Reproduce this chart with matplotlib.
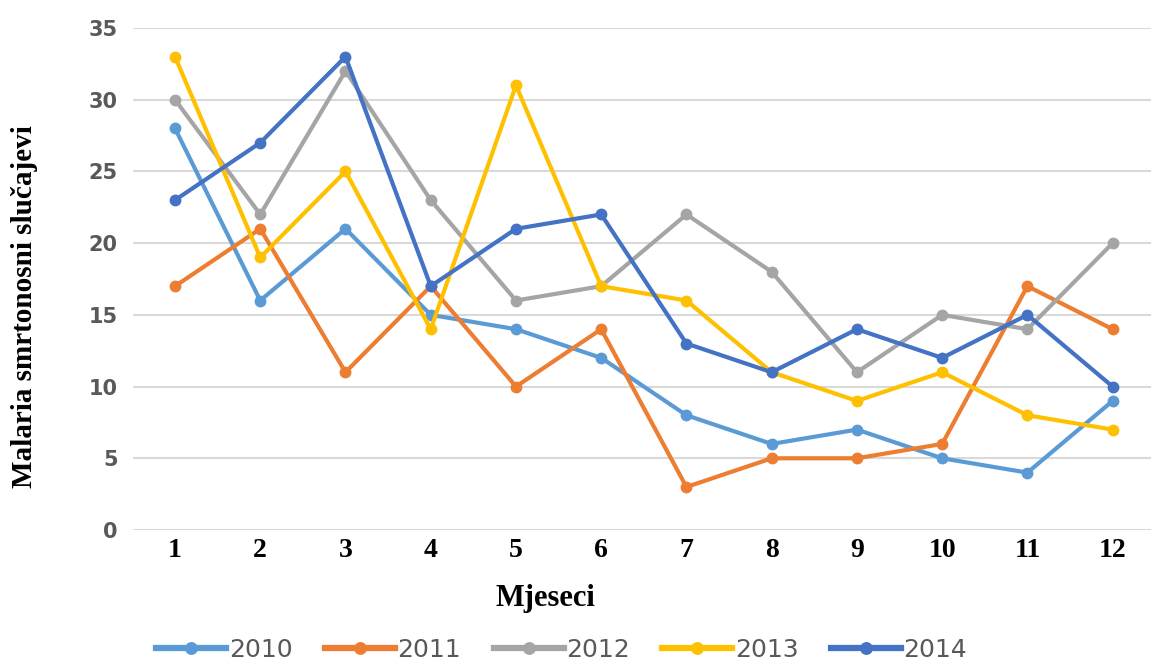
import numpy as np
import matplotlib.pyplot as plt

# Podaci (mjeseci 1-12, smrtonosni slučajevi malarije)
mjeseci = np.arange(1, 13)
godine = ['2010', '2011', '2012', '2013', '2014']
s2010 = [28, 16, 21, 15, 14, 12, 8, 6, 7, 5, 4, 9]
s2011 = [17, 21, 11, 17, 10, 14, 3, 5, 5, 6, 17, 14]
s2012 = [30, 22, 32, 23, 16, 17, 22, 18, 11, 15, 14, 20]
s2013 = [33, 19, 25, 14, 31, 17, 16, 11, 9, 11, 8, 7]
s2014 = [23, 27, 33, 17, 21, 22, 13, 11, 14, 12, 15, 10]
serije = [s2010, s2011, s2012, s2013, s2014]
boje = ['#5B9BD5', '#ED7D31', '#A5A5A5', '#FFC000', '#4472C4']

fig = plt.figure(figsize=(11.51, 6.68), dpi=100)
ax = fig.add_axes([133/1151, (668-530)/668, 1018/1151, 502/668])

for god, s, c in zip(godine, serije, boje):
    ax.plot(mjeseci, s, '-o', color=c, lw=3, ms=7.5, label=god)

ax.set_xlim(0.507, 12.45)
ax.set_ylim(0, 35)
ax.set_yticks(range(0, 36, 5))
ax.set_xticks(mjeseci)
ax.grid(axis='y', color='#D9D9D9', lw=1.5)
ax.set_axisbelow(True)
for sp in ax.spines.values():
    sp.set_visible(False)
ax.tick_params(length=0)
ax.tick_params(axis='y', labelsize=15, labelcolor='#595959', pad=11)
for t in ax.get_yticklabels():
    t.set_fontweight('bold')
ax.tick_params(axis='x', labelsize=20, pad=6)
for t in ax.get_xticklabels():
    t.set_family('Liberation Serif')
    t.set_fontweight('bold')

ax.set_xlabel('Mjeseci', family='Liberation Serif', fontweight='bold', fontsize=22)
ax.xaxis.set_label_coords((545-133)/1018, (530-584)/502)
ax.set_ylabel('Malaria smrtonosni slučajevi', family='Liberation Serif', fontweight='bold', fontsize=21)
ax.yaxis.set_label_coords(-95/1018, 0.444)

leg = fig.legend(loc='center', bbox_to_anchor=(0.488, 1 - 650/668), ncol=5, frameon=False,
                 fontsize=18, handlelength=2.8, columnspacing=1.3, handletextpad=0.1,
                 markerscale=1.1)
for t in leg.get_texts():
    t.set_color('#595959')
for h in leg.get_lines():
    h.set_linewidth(4.5)

fig.savefig('out.png', dpi=100)
